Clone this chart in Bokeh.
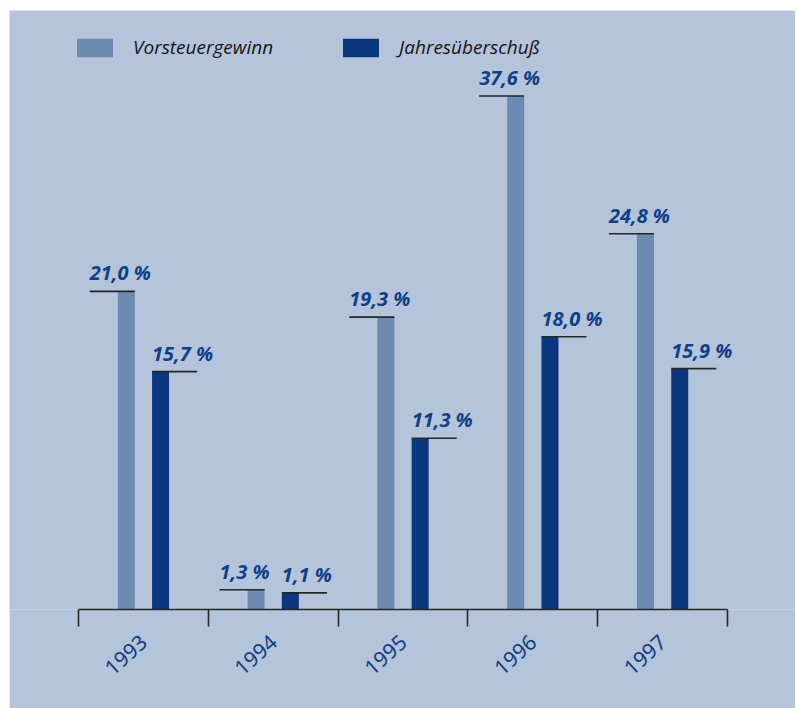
import math
from bokeh.plotting import figure
from bokeh.models import ColumnDataSource, FixedTicker, Legend, LegendItem
from bokeh.core.properties import value
from bokeh.embed import file_html
from bokeh.resources import INLINE

# ---- data ----
years = ["1993", "1994", "1995", "1996", "1997"]
vorsteuergewinn = [21.0, 1.3, 19.3, 37.6, 24.8]
jahresueberschuss = [15.7, 1.1, 11.3, 18.0, 15.9]
series_names = ["Vorsteuergewinn", "Jahresüberschuß"]

# ---- style ----
PANEL = "#b4c4da"
LIGHT = "#6d8ab3"
DARK = "#0a377d"
LABEL_COLOR = "#0f3f86"
YEAR_COLOR = "#123c84"
LINE_COLOR = "#262626"
BAR_W = 0.131
OFFSET = 0.132
LEADER = 0.347
Y_CAP = 33.9   # the original chart truncates the tallest bar

def fmt(v):
    return f"{v:.1f} %".replace(".", ",")

n = len(years)
centers = [i + 0.5 for i in range(n)]

light_x = [c - OFFSET for c in centers]
dark_x = [c + OFFSET for c in centers]
light_top = [min(v, Y_CAP) for v in vorsteuergewinn]
dark_top = [min(v, Y_CAP) for v in jahresueberschuss]

light_src = ColumnDataSource(dict(
    x=light_x, top=light_top,
    x0=[x + BAR_W / 2 - LEADER for x in light_x],
    x1=[x + BAR_W / 2 for x in light_x],
    label=[fmt(v) for v in vorsteuergewinn]))
dark_src = ColumnDataSource(dict(
    x=dark_x, top=dark_top,
    x0=[x - BAR_W / 2 for x in dark_x],
    x1=[x - BAR_W / 2 + LEADER for x in dark_x],
    label=[fmt(v) for v in jahresueberschuss]))

W, H = 786, 698
p = figure(width=W, height=H, output_backend="svg", toolbar_location=None,
           x_range=(-0.532, 5.524), y_range=(0, 39.54),
           y_axis_location=None,
           min_border_left=0, min_border_right=0, min_border_top=0,
           min_border_bottom=99, margin=(10, 0, 0, 9))
p.background_fill_color = PANEL
p.border_fill_color = PANEL
p.outline_line_color = None
p.xgrid.visible = False
p.ygrid.visible = False

r1 = p.vbar(x="x", top="top", width=BAR_W, bottom=0, source=light_src,
            fill_color=LIGHT, line_color=None)
r2 = p.vbar(x="x", top="top", width=BAR_W, bottom=0, source=dark_src,
            fill_color=DARK, line_color=None)

for src in (light_src, dark_src):
    p.segment(x0="x0", x1="x1", y0="top", y1="top", source=src,
              line_color=LINE_COLOR, line_width=1.6)
    p.text(x="x0", y="top", text="label", source=src,
           text_font=value("Open Sans"), text_font_style="bold italic",
           text_font_size="20px", text_color=LABEL_COLOR,
           text_align="left", text_baseline="bottom", y_offset=-5)

# x axis: boundaries as minor ticks, year labels at category centres
ax = p.xaxis[0]
ax.ticker = FixedTicker(ticks=centers, minor_ticks=list(range(n + 1)))
ax.major_label_overrides = {c: y for c, y in zip(centers, years)}
ax.bounds = (0, n)
ax.axis_line_color = LINE_COLOR
ax.axis_line_width = 1.6
ax.major_tick_line_color = None
ax.minor_tick_in = 0
ax.minor_tick_out = 17
ax.minor_tick_line_color = LINE_COLOR
ax.minor_tick_line_width = 1.6
ax.major_label_orientation = math.radians(42)
ax.major_label_standoff = 12
ax.major_label_text_font = "Noto Sans"
ax.major_label_text_font_size = "21px"
ax.major_label_text_color = YEAR_COLOR

legend = Legend(items=[LegendItem(label=series_names[0], renderers=[r1]),
                       LegendItem(label=series_names[1], renderers=[r2])],
                orientation="horizontal", location=(63, 549),
                glyph_width=45, glyph_height=23, label_standoff=16,
                spacing=65, padding=0, margin=0,
                background_fill_alpha=0, border_line_color=None,
                label_text_font="Open Sans", label_text_font_style="italic",
                label_text_font_size="19px", label_text_color="#161616")
p.add_layout(legend, "center")

open("out.html", "w").write(file_html(p, INLINE))
